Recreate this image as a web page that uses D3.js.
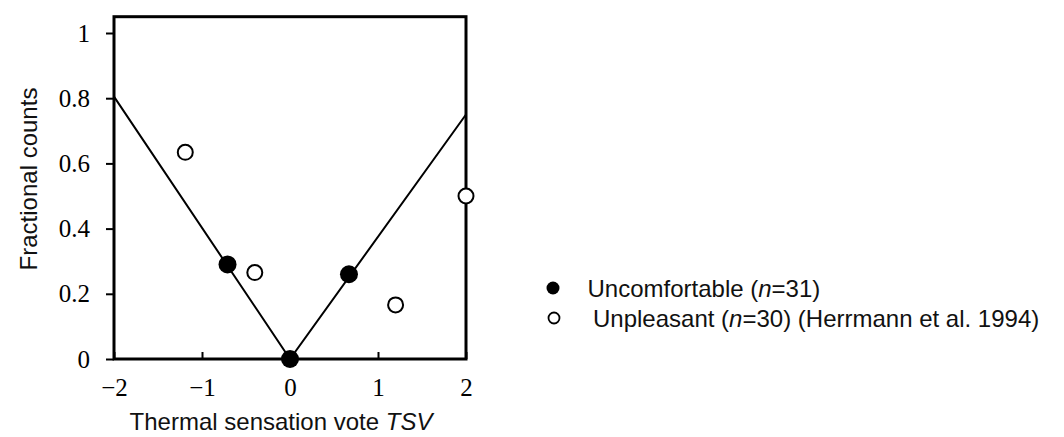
<!DOCTYPE html>
<html>
<head>
<meta charset="utf-8">
<script src="https://cdn.jsdelivr.net/npm/d3@7"></script>
<style>
  body { margin: 0; background: #fff; }
  svg { display: block; }
</style>
</head>
<body>
<div id="chart"></div>
<script>
// data
const xTicks = [-2, -1, 0, 1, 2];
const yTicks = [0, 0.2, 0.4, 0.6, 0.8, 1];

const uncomfortableX = [-0.71, 0, 0.67];
const uncomfortableY = [0.29, 0, 0.26];

const unpleasantX = [-1.19, -0.4, 1.2, 2.0];
const unpleasantY = [0.634, 0.265, 0.166, 0.5];

const fitX = [-2, 0, 2];
const fitY = [0.805, 0, 0.75];

const legendLabels = ["Uncomfortable", "Unpleasant"];
const legendCounts = ["31", "30"];

(() => {
  const W = 1064, H = 437;
  const left = 114, right = 466, top = 16.7, bottom = 359;

  const svg = d3.select("#chart").append("svg")
    .attr("width", W)
    .attr("height", H);

  const x = d3.scaleLinear().domain([-2, 2]).range([left, right]);
  const y = d3.scaleLinear().domain([0, 1.05]).range([bottom, top]);

  const minus = d => d < 0 ? "\u2212" + Math.abs(d) : String(d);

  // y axis
  const gy = svg.append("g")
    .attr("transform", `translate(${left},0)`)
    .call(d3.axisLeft(y).tickValues(yTicks).tickSize(8).tickSizeOuter(0).tickPadding(16).tickFormat(d => String(d)));
  gy.select(".domain").remove();
  gy.selectAll(".tick line").attr("stroke", "#000").attr("stroke-width", 2);
  gy.selectAll("text")
    .style("font-family", "'Liberation Serif', 'Times New Roman', serif")
    .style("font-size", "25px")
    .attr("fill", "#000");

  // x axis, ticks pointing inside
  const gx = svg.append("g")
    .attr("transform", `translate(0,${bottom})`)
    .call(d3.axisBottom(x).tickValues(xTicks).tickSize(-7).tickSizeOuter(0).tickPadding(19).tickFormat(minus));
  gx.select(".domain").remove();
  gx.selectAll(".tick line").attr("stroke", "#000").attr("stroke-width", 2);
  gx.selectAll("text")
    .style("font-family", "'Liberation Serif', 'Times New Roman', serif")
    .style("font-size", "25px")
    .attr("fill", "#000");

  // plot box
  svg.append("rect")
    .attr("x", left)
    .attr("y", top)
    .attr("width", right - left)
    .attr("height", bottom - top)
    .attr("fill", "none")
    .attr("stroke", "#000")
    .attr("stroke-width", 3);

  // fitted V line
  const line = d3.line().x(d => x(d[0])).y(d => y(d[1]));
  svg.append("path")
    .datum(d3.zip(fitX, fitY))
    .attr("d", line)
    .attr("fill", "none")
    .attr("stroke", "#000")
    .attr("stroke-width", 2);

  // open markers
  svg.selectAll(".open")
    .data(d3.zip(unpleasantX, unpleasantY))
    .enter()
    .append("circle")
    .attr("class", "open")
    .attr("cx", d => x(d[0]))
    .attr("cy", d => y(d[1]))
    .attr("r", 7.5)
    .attr("fill", "#fff")
    .attr("stroke", "#000")
    .attr("stroke-width", 2);

  // filled markers
  svg.selectAll(".filled")
    .data(d3.zip(uncomfortableX, uncomfortableY))
    .enter()
    .append("circle")
    .attr("class", "filled")
    .attr("cx", d => x(d[0]))
    .attr("cy", d => y(d[1]))
    .attr("r", 9)
    .attr("fill", "#000");

  const sans = "'Liberation Sans', Arial, sans-serif";

  // axis titles
  const xt = svg.append("text")
    .attr("x", 281)
    .attr("y", 430)
    .attr("text-anchor", "middle")
    .style("font-family", sans)
    .style("font-size", "24px")
    .attr("fill", "#111");
  xt.append("tspan").text("Thermal sensation vote ");
  xt.append("tspan").style("font-style", "italic").text("TSV");

  svg.append("text")
    .attr("transform", "translate(37,179) rotate(-90)")
    .attr("text-anchor", "middle")
    .style("font-family", sans)
    .style("font-size", "24px")
    .attr("fill", "#111")
    .text("Fractional counts");

  // legend
  const legendY = [288, 318];
  const legendTextX = [587.5, 593];

  svg.append("circle")
    .attr("cx", 553).attr("cy", legendY[0])
    .attr("r", 6.5)
    .attr("fill", "#000");
  svg.append("circle")
    .attr("cx", 554).attr("cy", legendY[1])
    .attr("r", 5.5)
    .attr("fill", "#fff")
    .attr("stroke", "#000")
    .attr("stroke-width", 1.8);

  legendLabels.forEach((lab, i) => {
    const t = svg.append("text")
      .attr("x", legendTextX[i])
      .attr("y", legendY[i] + 9)
      .style("font-family", sans)
      .style("font-size", "24px")
      .attr("fill", "#111");
    t.append("tspan").text(lab + " (");
    t.append("tspan").style("font-style", "italic").text("n");
    t.append("tspan").text("=" + legendCounts[i] + ")" + (i == 1 ? " (Herrmann et al. 1994)" : ""));
  });
})();
</script>
</body>
</html>
